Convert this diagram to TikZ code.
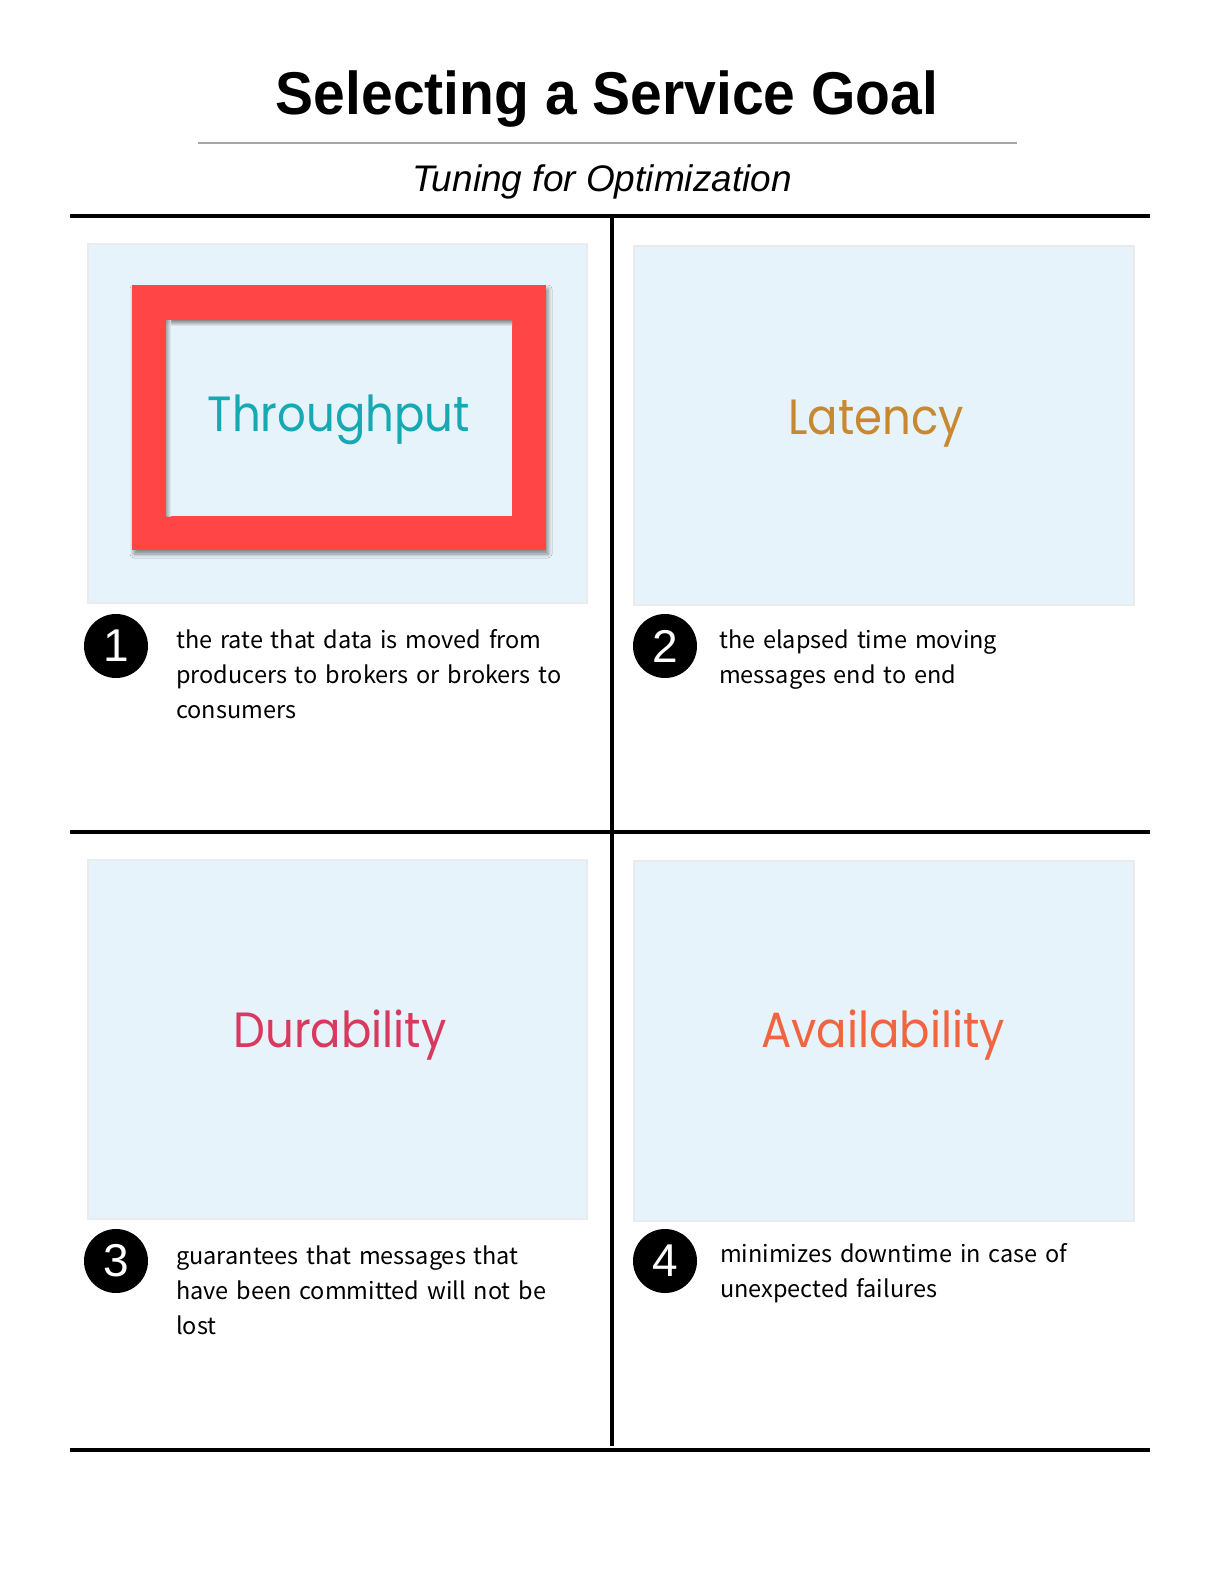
\documentclass[tikz,border=0pt]{standalone}
\usepackage{fontspec}
\setmainfont{Liberation Sans}
\newfontfamily\headfont{Poppins}
\newfontfamily\bodyfont{Noto Sans CJK JP}
\usetikzlibrary{shadows.blur}

\definecolor{panelblue}{HTML}{E6F3FA}
\definecolor{panelrim}{HTML}{EBEBEB}
\definecolor{framered}{HTML}{FF4546}
\definecolor{tealtxt}{HTML}{16A9B4}
\definecolor{ochretxt}{HTML}{C8882F}
\definecolor{crimsontxt}{HTML}{D83A5F}
\definecolor{orangetxt}{HTML}{F06540}
\definecolor{rulegray}{HTML}{A6A6A6}

\newcommand{\goaltext}[1]{\scalebox{1}[1.1]{#1}}

\tikzset{
  panel/.style={fill=panelblue, draw=panelrim, line width=1.2pt, rectangle,
    anchor=north west, inner sep=0pt, outer sep=0pt},
  heavyrule/.style={line width=4pt, black},
  badge/.style={circle, fill=black, minimum size=64pt, inner sep=0pt,
    text=white, font=\fontsize{46}{46}\selectfont},
  desc/.style={anchor=base west, inner sep=0pt, text width=430pt, align=left,
    font=\bodyfont\fontsize{23.5}{35}\selectfont},
  goal/.style={anchor=base, inner sep=0pt, font=\headfont\fontsize{45}{45}\selectfont},
}

\begin{document}
\begin{tikzpicture}[x=1pt,y=-1pt]
  % page
  \path[use as bounding box, fill=white] (0,0) rectangle (1224,1576);

  % heading
  \node[anchor=base, inner sep=0pt] (title) at (607,114)
    {\scalebox{1}[1.06]{\fontsize{57}{57}\selectfont\bfseries Selecting a Service Goal}};
  \coordinate (gl) at (198,143);
  \coordinate (gr) at (1017,143);
  \draw[rulegray, line width=2pt] (gl) -- (gr);
  \node[anchor=base, inner sep=0pt] (subtitle) at (602,191)
    {\fontsize{37}{37}\selectfont\itshape Tuning for Optimization};

  % grid rules
  \coordinate (tl) at (70,216);   \coordinate (tr) at (1150,216);
  \coordinate (ml) at (70,832);   \coordinate (mr) at (1150,832);
  \coordinate (bl) at (70,1450);  \coordinate (br) at (1150,1450);
  \coordinate (vt) at (612,216);  \coordinate (vb) at (612,1446);
  \draw[heavyrule] (tl) -- (tr);
  \draw[heavyrule] (ml) -- (mr);
  \draw[heavyrule] (bl) -- (br);
  \draw[heavyrule] (vt) -- (vb);

  % panels
  \node[panel, minimum width=499pt, minimum height=359pt] (p1) at (88,244) {};
  \node[panel, minimum width=500pt, minimum height=359pt] (p2) at (634,246) {};
  \node[panel, minimum width=499pt, minimum height=359pt] (p3) at (88,860) {};
  \node[panel, minimum width=500pt, minimum height=360pt] (p4) at (634,861) {};

  % highlight frame around the first goal
  \fill[framered, blur shadow={shadow xshift=2pt, shadow yshift=-4pt,
        shadow blur radius=4pt, shadow opacity=45}] (132,285) rectangle (546,550);
  \fill[panelblue] (166,320) rectangle (512,516);
  \shade[top color=black!45, bottom color=panelblue] (166,320) rectangle (512,326);
  \shade[left color=black!40, right color=panelblue, opacity=0.8] (166,320) rectangle (171,516);

  % goal names
  \node[goal, text=tealtxt] (g1) at (339,431) {\goaltext{Throughput}};
  \node[goal, text=ochretxt] (g2) at (876,434) {\goaltext{Latency}};
  \node[goal, text=crimsontxt] (g3) at (340,1047) {\goaltext{Durability}};
  \node[goal, text=orangetxt] (g4) at (883,1047) {\goaltext{Availability}};

  % numbered badges
  \node[badge] (n1) at (116,646) {1};
  \node[badge] (n2) at (665,646) {2};
  \node[badge] (n3) at (116,1261) {3};
  \node[badge] (n4) at (665,1261) {4};

  % descriptions
  \node[desc] (d1) at (176,648)
    {the rate that data is moved from\\producers to brokers or brokers to\\consumers};
  \node[desc] (d2) at (719,648)
    {the elapsed time moving\\messages end to end};
  \node[desc] (d3) at (176,1264)
    {guarantees that messages that\\have been committed will not be\\lost};
  \node[desc] (d4) at (720,1262)
    {minimizes downtime in case of\\unexpected failures};
\end{tikzpicture}
\end{document}
